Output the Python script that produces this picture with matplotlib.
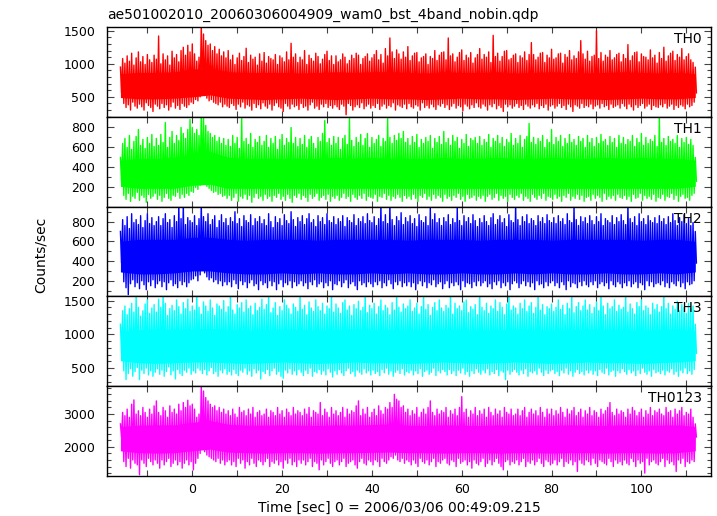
import numpy as np
import matplotlib
matplotlib.use("Agg")
import matplotlib.pyplot as plt
from matplotlib.ticker import MultipleLocator, FixedLocator

plt.rcParams['font.family'] = ['DejaVu Sans']

title = "ae501002010_20060306004909_wam0_bst_4band_nobin.qdp"
xlabel = "Time [sec] 0 = 2006/03/06 00:49:09.215"
ylabel = "Counts/sec"
bands = ["TH0", "TH1", "TH2", "TH3", "TH0123"]
colors = ["#ff0000", "#00ff00", "#0000ff", "#00ffff", "#ff00ff"]

t_start = -16.0      # first time of the light curve (s)
env_step = 0.5       # spacing of the spike-envelope estimates (s)
core_step = 4.0      # spacing of the dense-core estimates (s)

# half-second upper / lower spike envelopes, read (estimated) from the picture
TH0_hi = [950,1080,1010,1120,1040,1160,980,1090,1180,1030,1110,990,1140,1060,1020,1130,
          1070,1420,1000,1150,1060,1120,980,1190,1090,1140,1030,1200,1250,1130,1280,1180,
          1300,1150,1040,1100,1600,1450,1350,1280,1300,1200,1260,1150,1220,1120,1180,1090,
          1200,1060,1130,990,1090,1160,1050,1110,1235,1020,1130,1070,1100,980,1150,1040,
          1170,1010,1110,1080,1060,1140,990,1120,1090,1030,1180,1060,1310,1100,1150,1020,
          1100,1060,1200,990,1130,1080,1040,1160,1110,1000,1070,1140,1190,1050,1120,990,
          1120,1030,1060,1150,1100,1000,1050,1130,1080,1160,1130,990,1080,1110,1150,1040,
          1090,1140,1200,1060,1140,1010,1230,1120,1390,1180,1080,1210,1150,1070,1180,1100,
          1260,1050,1120,1160,1170,1030,1090,1110,1150,990,1110,1080,1200,1050,1130,1170,
          1180,1060,1390,1120,1150,1030,1100,1170,1210,1050,1130,1090,1170,1010,1090,1140,
          1230,1070,1140,1100,1180,1020,1430,1110,1160,1040,1110,1190,1200,1060,1080,1130,
          1150,1020,1120,1090,1180,1050,1140,1320,1140,1060,1100,1160,1170,1020,1130,1090,
          1220,1070,1090,1150,1160,1010,1140,1100,1200,1060,1120,1080,1180,1350,1150,1070,
          1190,1040,1110,1130,1500,1080,1170,1040,1130,1100,1200,1060,1090,1140,1160,1030,
          1140,1080,1290,1050,1120,1170,1180,1030,1150,1110,1100,1060,1210,1090,1130,1010,
          1170,1080,1250,1040,1120,1160,1190,1050,1140,1100,1230,1060,1110,1150,1060,1020,
          950]
TH0_lo = [560,400,340,380,300,420,360,330,390,350,300,410,370,340,280,390,
          360,320,400,340,380,300,350,420,330,370,310,400,360,340,380,420,
          400,460,440,500,600,520,480,440,460,420,400,380,420,350,390,360,
          340,400,370,310,390,350,420,330,380,360,300,400,340,380,320,410,
          360,330,390,300,370,410,350,330,280,400,360,320,390,350,370,310,
          400,340,360,300,380,420,330,360,310,390,350,400,340,370,330,380,
          350,310,390,360,230,400,370,300,350,380,340,410,320,360,390,330,
          370,340,400,310,360,390,330,370,350,410,300,380,360,340,390,320,
          400,350,330,380,360,300,410,340,370,330,390,350,310,380,360,400,
          340,380,310,360,400,330,370,350,290,390,360,320,380,340,410,350,
          330,390,360,300,380,350,400,320,370,340,280,390,350,380,330,360,
          400,340,370,310,390,360,330,380,350,400,320,370,340,390,300,360,
          380,330,360,400,340,370,310,390,350,280,380,360,330,400,340,370,
          350,390,320,360,380,330,400,350,370,310,390,340,360,380,330,400,
          360,320,390,350,300,380,340,370,400,330,360,390,310,370,350,340,
          380,350,400,330,360,390,310,370,340,380,360,320,390,350,370,420,
          560]
TH0_core_hi = [850,870,870,880,920,930,880,870,870,870,860,870,880,870,880,880,870,
               860,880,870,870,880,860,870,880,870,860,870,880,870,860,870,850]
TH0_core_lo = [490,470,470,480,500,530,480,470,460,470,480,470,460,470,480,470,470,
               460,470,480,470,470,460,470,480,470,470,460,470,480,470,470,490]

TH1_hi = [500,640,690,600,720,580,660,710,780,620,680,590,700,640,730,610,
          690,620,730,650,850,600,700,760,640,720,670,800,740,690,780,880,
          800,740,780,720,950,900,820,760,740,700,720,660,700,640,690,620,
          680,610,720,640,700,590,900,660,690,630,740,600,680,650,710,620,
          660,720,600,690,640,710,580,680,730,620,690,650,800,640,700,610,
          690,630,720,600,680,710,640,590,700,660,740,870,650,690,620,710,
          640,700,580,690,720,630,890,670,610,700,650,730,620,690,740,600,
          700,640,680,720,610,690,660,890,700,640,720,670,740,690,760,650,
          690,620,710,650,730,600,680,640,700,660,720,590,690,650,710,630,
          760,650,690,620,720,660,700,590,680,640,730,610,690,670,700,640,
          710,620,680,650,730,600,690,660,720,640,700,610,680,650,740,620,
          690,640,720,600,680,710,840,650,700,630,690,660,720,600,680,650,
          780,630,700,660,720,610,690,640,730,650,680,620,710,660,690,600,
          720,650,690,610,700,640,730,660,680,620,710,650,690,600,720,640,
          700,630,680,660,720,610,690,650,740,620,700,640,680,660,720,610,
          900,650,690,620,710,660,680,640,720,600,690,650,700,630,680,620,
          500]
TH1_lo = [260,120,80,140,60,110,90,150,70,120,100,50,130,90,110,140,
          80,120,60,100,140,90,70,120,110,150,90,130,100,140,120,160,
          150,200,180,220,270,240,210,190,170,150,160,130,140,110,120,90,
          120,70,100,140,60,110,90,130,80,120,50,100,140,90,110,70,
          130,90,110,60,120,100,140,80,110,70,130,90,50,120,100,140,
          80,120,100,60,130,90,110,140,70,100,120,80,130,60,110,90,
          120,70,100,140,90,110,60,130,100,80,120,90,140,70,110,100,
          90,130,60,110,100,140,80,120,70,110,90,130,100,60,120,90,
          110,80,130,90,60,120,100,140,80,110,70,130,90,120,100,60,
          130,90,110,70,120,100,140,80,110,60,130,90,100,120,70,110,
          90,120,60,110,130,80,100,140,70,120,90,110,60,130,100,80,
          120,100,140,70,110,90,60,130,100,80,120,90,140,70,110,100,
          80,130,90,110,60,120,100,140,70,110,90,130,80,120,60,100,
          110,70,130,90,120,100,60,140,80,110,90,120,70,130,100,90,
          120,80,110,60,130,90,100,140,70,120,90,110,80,130,60,100,
          90,130,70,110,100,140,80,120,60,110,130,90,100,70,120,140,
          260]
TH1_core_hi = [470,490,490,500,540,560,500,490,490,490,490,490,500,490,500,490,490,
               490,500,490,490,500,490,490,500,490,490,500,490,500,490,490,470]
TH1_core_lo = [210,190,190,190,220,230,190,190,190,190,190,190,190,190,190,190,190,
               190,190,190,190,190,190,190,190,190,190,190,190,190,190,190,210]

TH2_hi = [700,820,760,850,730,880,790,820,770,860,740,810,880,780,840,760,
          800,850,760,830,880,790,820,740,860,800,980,830,980,770,840,810,
          790,860,760,830,980,850,800,880,770,820,860,740,810,870,790,830,
          760,840,800,900,780,830,750,860,810,790,870,760,830,800,850,780,
          820,760,880,800,740,850,790,830,760,870,810,780,900,820,750,840,
          800,860,770,830,880,790,820,750,860,800,840,770,880,810,790,850,
          770,830,800,860,750,840,810,790,870,760,830,800,850,780,880,810,
          790,850,760,830,980,800,870,780,980,820,760,850,810,890,770,840,
          800,860,780,830,750,870,810,790,850,760,940,820,880,790,830,760,
          840,800,870,770,830,790,940,810,760,860,800,840,780,870,810,750,
          830,790,860,800,760,840,880,770,820,860,790,830,750,870,810,790,
          980,820,760,850,800,870,780,830,810,760,860,800,840,780,870,810,
          790,840,780,860,800,830,770,880,810,790,970,820,760,850,800,840,
          780,860,810,770,850,800,880,760,830,810,790,860,770,840,800,870,
          810,770,980,830,790,850,760,880,800,830,770,860,810,790,840,780,
          860,800,830,770,850,790,880,810,760,840,800,870,780,830,760,790,
          700]
TH2_lo = [380,190,130,60,170,210,140,180,120,200,160,110,190,150,210,130,
          170,200,140,190,110,180,210,150,170,130,200,160,190,140,180,210,
          220,250,200,260,320,280,240,210,230,190,210,170,200,150,190,160,
          190,140,210,170,120,200,160,190,130,180,210,150,170,110,200,160,
          180,130,200,150,190,110,170,210,140,180,160,200,130,190,150,170,
          200,150,180,120,190,160,210,140,170,190,130,180,150,200,110,170,
          160,200,140,180,210,130,170,190,150,110,200,160,180,140,190,170,
          140,190,160,200,130,180,150,210,170,120,190,160,200,140,180,150,
          190,140,180,110,170,200,150,190,130,180,160,210,140,170,190,120,
          170,200,130,180,150,190,160,110,200,140,180,170,130,190,150,200,
          150,180,200,140,170,120,190,160,200,130,180,150,190,110,170,200,
          180,130,170,200,150,190,140,180,110,200,160,170,130,190,150,180,
          200,150,180,130,190,160,110,200,140,180,170,130,190,150,200,160,
          140,190,160,200,130,170,190,150,180,120,200,160,140,190,170,130,
          180,150,200,140,170,190,130,180,160,110,200,150,190,140,170,180,
          160,200,140,180,130,190,170,150,200,140,180,120,190,160,170,200,
          380]
TH2_core_hi = [600,620,620,620,640,640,620,610,620,620,620,610,620,620,620,620,610,
               620,620,620,610,620,620,620,610,620,620,620,620,610,620,620,600]
TH2_core_lo = [290,270,270,280,300,300,280,270,270,280,270,280,270,270,280,270,280,
               270,270,280,270,270,280,270,280,270,270,280,270,270,280,270,290]

TH3_hi = [1150,1350,1420,1290,1380,1460,1330,1600,1400,1270,1350,1450,1510,1310,1390,1440,
          1330,1520,1400,1600,1460,1280,1380,1430,1350,1510,1410,1300,1470,1380,1520,1340,
          1420,1360,1600,1400,1300,1480,1420,1340,1510,1390,1280,1450,1420,1370,1500,1330,
          1410,1600,1360,1300,1440,1390,1470,1330,1510,1380,1420,1290,1460,1350,1400,1520,
          1370,1440,1600,1320,1390,1470,1280,1410,1350,1510,1430,1380,1300,1450,1400,1340,
          1600,1370,1430,1290,1480,1390,1340,1510,1410,1350,1460,1300,1420,1380,1600,1330,
          1450,1390,1310,1470,1510,1360,1420,1280,1440,1380,1490,1350,1400,1600,1320,1430,
          1380,1460,1300,1410,1510,1350,1430,1390,1290,1470,1360,1600,1400,1330,1450,1380,
          1420,1510,1340,1390,1460,1300,1410,1600,1370,1440,1280,1400,1470,1350,1510,1390,
          1340,1430,1390,1600,1300,1460,1380,1420,1350,1480,1510,1320,1410,1370,1440,1290,
          1600,1400,1350,1460,1310,1420,1380,1510,1340,1470,1400,1290,1450,1600,1360,1420,
          1390,1300,1460,1380,1510,1340,1420,1470,1310,1400,1600,1360,1440,1290,1410,1380,
          1450,1340,1400,1510,1370,1430,1290,1460,1380,1600,1320,1410,1470,1350,1420,1510,
          1360,1440,1310,1400,1480,1350,1600,1420,1290,1460,1380,1410,1510,1340,1430,1370,
          1400,1600,1330,1450,1380,1300,1470,1410,1510,1350,1420,1390,1290,1460,1370,1440,
          1330,1410,1600,1380,1460,1300,1420,1370,1490,1350,1440,1400,1310,1460,1380,1420,
          1150]
TH3_lo = [720,460,330,420,490,380,450,510,330,470,420,500,400,460,380,440,
          490,410,470,380,450,520,400,460,340,480,420,390,470,440,500,410,
          460,430,500,470,420,480,400,460,510,420,450,380,470,430,490,410,
          450,400,480,420,390,470,440,500,410,460,380,490,430,470,340,450,
          420,480,390,460,500,410,450,380,350,470,430,490,410,460,400,480,
          440,390,470,420,500,380,450,430,480,410,460,400,490,440,370,460,
          410,480,430,390,460,500,420,450,380,470,440,410,490,430,460,400,
          470,420,450,390,480,430,500,410,460,380,440,470,420,490,400,450,
          430,470,400,460,420,490,380,450,470,410,440,500,390,460,430,480,
          450,400,480,420,460,390,470,430,500,410,450,380,460,420,490,440,
          410,470,430,490,400,450,420,480,390,460,440,330,470,410,450,480,
          440,400,470,420,490,380,450,430,460,410,500,440,390,470,420,460,
          480,420,450,390,470,430,500,410,460,380,440,480,420,450,400,470,
          430,470,410,460,390,480,440,420,500,400,450,470,380,460,430,490,
          450,410,480,430,460,390,470,420,500,440,410,460,380,480,430,450,
          420,470,400,460,440,490,410,450,380,470,430,500,420,460,410,480,
          720]
TH3_core_hi = [1050,1070,1080,1070,1080,1090,1070,1060,1070,1080,1070,1060,1070,1080,1070,1070,1060,
               1070,1080,1070,1060,1070,1080,1070,1060,1070,1080,1070,1070,1060,1070,1080,1050]
TH3_core_lo = [610,580,570,580,590,590,580,570,580,590,580,570,580,590,580,580,570,
               580,590,580,570,580,590,580,570,580,590,580,580,570,580,590,610]

TH0123_hi = [2700,3050,2950,3150,2900,3300,3430,3000,3100,2950,3200,3050,2900,3150,3000,3250,
             3400,3050,2950,3200,3100,2900,3250,3050,3150,3000,3300,3100,3350,3200,3420,3250,
             3300,3150,2900,3000,3900,3700,3500,3400,3300,3200,3250,3100,3200,3050,3150,3000,
             3100,2950,3150,3000,2900,3200,3050,3100,2950,3150,3000,3200,2900,3050,3100,2950,
             3000,3150,2900,3100,3050,2950,3200,3000,3100,2900,3150,3050,2950,3200,3000,3100,
             3050,2950,3150,3000,3200,2900,3100,3050,3000,3350,2950,3150,3050,2900,3200,3000,
             3100,2950,3050,3200,2900,3150,3000,3100,3050,3250,3400,2950,3150,3000,3200,2900,
             3050,3150,2950,3250,3100,3000,3200,3150,3350,3200,3600,3450,3400,3200,3250,3050,
             3150,2950,3100,3000,3200,2900,3050,3150,3000,3200,3400,3050,2950,3150,3000,3100,
             3050,3200,2900,3100,3000,3150,2950,3200,3530,3050,3150,2900,3100,3000,3200,2950,
             3100,3000,3150,2900,3200,3050,2950,3150,3000,3100,2900,3200,3050,3000,3150,2950,
             3000,3150,2950,3100,3200,2900,3050,3150,3000,3100,2950,3200,3050,2900,3150,3000,
             3150,2950,3100,3000,3200,3050,2900,3150,3000,3100,3200,2950,3050,3150,2900,3100,
             3000,3200,2950,3100,3050,2900,3150,3000,3100,3200,3350,3050,2950,3150,3000,3100,
             3050,2900,3150,3000,3200,3100,2950,3050,3150,2900,3100,3000,3200,2950,3100,3050,
             3150,3000,2950,3200,3050,3100,2900,3150,3000,3100,3200,2950,3050,3000,3150,2900,
             2700]
TH0123_lo = [2300,1550,1400,1650,1350,1600,1500,1450,1150,1600,1500,1400,1650,1550,1450,1600,
             1500,1350,1600,1450,1550,1650,1400,1500,1600,1450,1550,1350,1500,1600,1450,1550,
             1300,1500,1650,1800,1950,1850,1750,1700,1650,1600,1550,1650,1500,1600,1450,1550,
             1600,1450,1550,1400,1650,1500,1600,1350,1550,1450,1650,1500,1400,1600,1550,1450,
             1550,1650,1400,1550,1500,1600,1450,1550,1350,1600,1500,1650,1450,1550,1400,1600,
             1500,1600,1450,1550,1650,1400,1550,1500,1300,1600,1450,1550,1650,1500,1400,1550,
             1600,1450,1550,1650,1400,1500,1550,1600,1450,1350,1550,1650,1500,1450,1600,1550,
             1450,1600,1550,1400,1650,1550,1500,1600,1700,1650,1750,1600,1550,1650,1500,1600,
             1550,1450,1600,1500,1400,1650,1550,1500,1600,1450,1550,1650,1400,1550,1500,1600,
             1650,1500,1450,1600,1550,1400,1650,1500,1550,1600,1450,1550,1350,1600,1500,1450,
             1550,1650,1400,1500,1600,1450,1550,1650,1500,1400,1300,1550,1600,1450,1550,1500,
             1600,1450,1550,1650,1400,1550,1500,1600,1450,1550,1650,1500,1400,1600,1550,1450,
             1500,1600,1450,1550,1650,1400,1550,1500,1600,1450,1550,1250,1600,1500,1450,1600,
             1550,1450,1650,1500,1400,1600,1550,1500,1450,1650,1550,1400,1600,1500,1550,1450,
             1600,1500,1450,1650,1550,1400,1600,1500,1550,1200,1650,1450,1550,1600,1500,1450,
             1550,1650,1400,1600,1500,1550,1450,1250,1600,1500,1650,1400,1550,1500,1600,1550,
             2300]
TH0123_core_hi = [2620,2660,2670,2670,2750,2800,2690,2660,2660,2670,2660,2650,2670,2660,2680,2700,2660,
                  2650,2670,2660,2650,2670,2660,2660,2650,2670,2660,2650,2670,2660,2660,2670,2620]
TH0123_core_lo = [1880,1820,1810,1820,1880,1930,1840,1820,1810,1820,1820,1810,1820,1820,1830,1840,1820,
                  1820,1810,1820,1820,1810,1820,1820,1810,1820,1820,1810,1820,1820,1810,1820,1880]

series_hi = [TH0_hi, TH1_hi, TH2_hi, TH3_hi, TH0123_hi]
series_lo = [TH0_lo, TH1_lo, TH2_lo, TH3_lo, TH0123_lo]
core_hi = [TH0_core_hi, TH1_core_hi, TH2_core_hi, TH3_core_hi, TH0123_core_hi]
core_lo = [TH0_core_lo, TH1_core_lo, TH2_core_lo, TH3_core_lo, TH0123_core_lo]

ylims = [(199, 1556), (7, 907), (42, 952), (233, 1562), (1112, 3848)]
yticks = [[500, 1000, 1500], [200, 400, 600, 800], [200, 400, 600, 800],
          [500, 1000, 1500], [2000, 3000]]
yminor = [100, 100, 100, 100, 200]
xlim = (-19.1, 115.5)

W, H = 717, 516
fig = plt.figure(figsize=(W / 100, H / 100), dpi=100)
left, right = 106.5 / W, 711 / W
top_px, bot_px = 27, 476
ph = (bot_px - top_px) / 5

for i in range(5):
    y0 = 1 - (top_px + ph * (i + 1)) / H
    ax = fig.add_axes([left, y0, right - left, ph / H])
    c = colors[i]
    hi = np.asarray(series_hi[i], float)
    lo = np.asarray(series_lo[i], float)
    th = t_start + env_step * np.arange(len(hi))
    tl = t_start + env_step / 2 + env_step * np.arange(len(lo))
    tz = np.concatenate([th, tl])
    vz = np.concatenate([hi, lo])
    order = np.argsort(tz, kind="stable")
    ch = np.asarray(core_hi[i], float)
    cl = np.asarray(core_lo[i], float)
    tc = t_start + core_step * np.arange(len(ch))
    ax.fill_between(tc, cl, ch, color=c, lw=0)
    ax.plot(tz[order], vz[order], color=c, lw=1.0)
    ax.set_xlim(*xlim)
    ax.set_ylim(*ylims[i])
    ax.yaxis.set_major_locator(FixedLocator(yticks[i]))
    ax.yaxis.set_minor_locator(MultipleLocator(yminor[i]))
    ax.xaxis.set_major_locator(MultipleLocator(20))
    ax.xaxis.set_minor_locator(MultipleLocator(10))
    ax.tick_params(which="both", direction="in", top=True, right=True,
                   color="#444444", width=0.8, labelsize=9)
    ax.tick_params(axis="y", which="major", length=5, pad=8)
    ax.tick_params(axis="y", which="minor", length=3)
    ax.tick_params(axis="x", which="both", length=4.5, pad=5)
    for s in ax.spines.values():
        s.set_linewidth(1.0)
        s.set_color("black")
    if i < 4:
        ax.tick_params(axis="x", labelbottom=False)
    ax.text(0.985, 0.945, bands[i], transform=ax.transAxes, ha="right", va="top",
            fontsize=10)

fig.text(107 / W, 1 - 19 / H, title, ha="left", va="baseline", fontsize=10)
fig.text(41 / W, 1 - 255 / H, ylabel, rotation=90, ha="center", va="center", fontsize=10)
fig.text(399 / W, 1 - 508 / H, xlabel, ha="center", va="center", fontsize=10)

fig.savefig("out.png", dpi=100)
